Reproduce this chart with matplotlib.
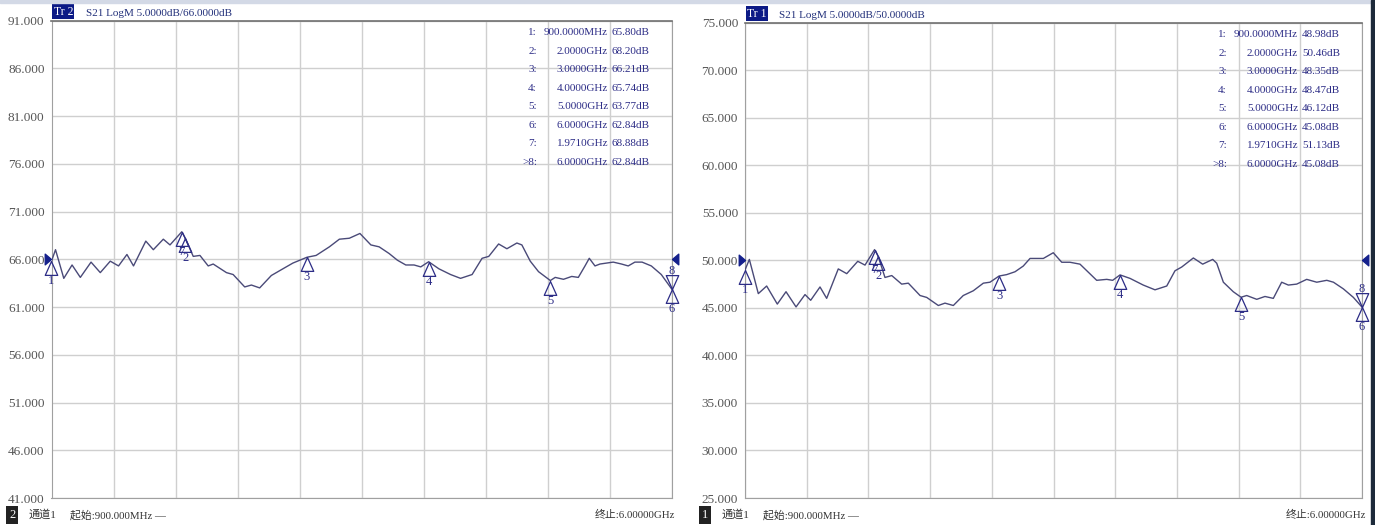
import numpy as np
import matplotlib.pyplot as plt
from matplotlib.patches import Rectangle

plt.rcParams['font.family'] = ['Liberation Serif', 'Noto Sans CJK SC']

# ---- data ----
# left screen: Tr 2, ref 66 dB, 5 dB/div
f_left = [0.9, 0.933, 1.001, 1.069, 1.137, 1.225, 1.301, 1.383, 1.451, 1.52,
          1.574, 1.675, 1.737, 1.819, 1.874, 1.971, 2.0, 2.065, 2.12, 2.188,
          2.229, 2.338, 2.393, 2.488, 2.543, 2.611, 2.707, 2.802, 2.884, 3.0,
          3.075, 3.184, 3.266, 3.348, 3.435, 3.525, 3.593, 3.675, 3.743, 3.812,
          3.88, 3.935, 4.0, 4.084, 4.18, 4.262, 4.357, 4.439, 4.494, 4.575,
          4.643, 4.725, 4.766, 4.835, 4.903, 5.0, 5.04, 5.108, 5.176, 5.23,
          5.285, 5.32, 5.367, 5.408, 5.517, 5.585, 5.64, 5.695, 5.754, 5.83,
          5.912, 6.0]
db_left = [65.80, 67.0, 64.0, 65.4, 64.1, 65.7, 64.6, 65.8, 65.3, 66.5,
           65.3, 67.9, 67.0, 68.1, 67.5, 68.88, 68.20, 66.3, 66.4, 65.3,
           65.5, 64.6, 64.4, 63.1, 63.3, 63.0, 64.3, 65.0, 65.6, 66.21,
           66.4, 67.3, 68.1, 68.2, 68.7, 67.5, 67.3, 66.6, 65.9, 65.4,
           65.4, 65.2, 65.74, 65.0, 64.4, 64.0, 64.4, 66.1, 66.3, 67.6,
           67.1, 67.7, 67.5, 65.8, 64.7, 63.77, 64.1, 63.9, 64.2, 64.1,
           65.3, 66.1, 65.3, 65.5, 65.7, 65.5, 65.3, 65.7, 65.7, 65.3,
           64.4, 62.84]

# right screen: Tr 1, ref 50 dB, 5 dB/div
f_right = [0.9, 0.936, 1.01, 1.079, 1.167, 1.239, 1.322, 1.396, 1.443, 1.52,
           1.575, 1.671, 1.741, 1.832, 1.892, 1.971, 2.0, 2.057, 2.113, 2.195,
           2.25, 2.347, 2.402, 2.498, 2.553, 2.622, 2.704, 2.787, 2.87, 2.925,
           3.0, 3.063, 3.132, 3.2, 3.256, 3.366, 3.448, 3.518, 3.586, 3.669,
           3.807, 3.89, 3.939, 4.0, 4.083, 4.192, 4.289, 4.386, 4.454, 4.51,
           4.606, 4.683, 4.766, 4.799, 4.854, 4.936, 5.0, 5.047, 5.13, 5.198,
           5.267, 5.336, 5.391, 5.46, 5.543, 5.626, 5.709, 5.764, 5.846, 5.929,
           6.0]
db_right = [48.98, 50.1, 46.5, 47.3, 45.4, 46.7, 45.1, 46.4, 45.8, 47.2,
            46.0, 49.1, 48.6, 49.9, 49.5, 51.13, 50.46, 48.2, 48.4, 47.5,
            47.6, 46.3, 46.1, 45.25, 45.5, 45.25, 46.3, 46.8, 47.6, 47.7,
            48.35, 48.5, 48.8, 49.4, 50.2, 50.2, 50.8, 49.8, 49.8, 49.6,
            47.9, 48.0, 47.9, 48.47, 48.1, 47.4, 46.9, 47.3, 48.9, 49.3,
            50.25, 49.6, 50.1, 49.7, 47.7, 46.7, 46.12, 46.3, 45.9, 46.2,
            46.0, 47.7, 47.4, 47.5, 48.0, 47.7, 47.9, 47.7, 47.0, 46.1,
            45.08]

# marker table
mk_names = ['1:', '2:', '3:', '4:', '5:', '6:', '7:', '>8:']
mk_freq = [0.9, 2.0, 3.0, 4.0, 5.0, 6.0, 1.971, 6.0]
mk_freq_txt = ['900.0000MHz', '2.0000GHz', '3.0000GHz', '4.0000GHz',
               '5.0000GHz', '6.0000GHz', '1.9710GHz', '6.0000GHz']
mk_left = [65.80, 68.20, 66.21, 65.74, 63.77, 62.84, 68.88, 62.84]
mk_right = [48.98, 50.46, 48.35, 48.47, 46.12, 45.08, 51.13, 45.08]

f_start, f_stop = 0.9, 6.0

TRACE = '#4a4a78'
NAVY = '#2c2c86'
W, H = 1375, 525


def fx(px):
    return px / W


def fy(py):
    return 1 - py / H


fig = plt.figure(figsize=(13.75, 5.25), dpi=100)
fig.patch.set_facecolor('white')

# screen decorations
fig.patches.append(Rectangle((0, fy(3)), 1, 3 / H, transform=fig.transFigure,
                             color='#d3d9e6', zorder=0))
fig.patches.append(Rectangle((fx(1371), 0), 4 / W, 1, transform=fig.transFigure,
                             color='#1d2a3a', zorder=0))

up_tri = [(0, 0), (-0.45, -1), (0.45, -1), (0, 0)]
down_tri = [(0, 0), (-0.45, 1), (0.45, 1), (0, 0)]
ref_right = [(0, 0), (-1, 0.85), (-1, -0.85), (0, 0)]
ref_left = [(0, 0), (1, 0.85), (1, -0.85), (0, 0)]


def draw_screen(ax, tr, ylo, yhi, ref, f, db, mk_db):
    ax.set_xlim(f_start, f_stop)
    ax.set_ylim(ylo, yhi)
    ax.set_xticks(np.linspace(f_start, f_stop, 11))
    ax.set_yticks(np.arange(ylo, yhi + 0.1, 5))
    ax.set_yticklabels([f'{v:.3f}' for v in np.arange(ylo, yhi + 0.1, 5)])
    ax.tick_params(axis='x', length=0, labelbottom=False)
    ax.tick_params(axis='y', length=0, pad=5, labelsize=9.5, labelcolor='#555555')
    ax.grid(True, color='#cfcfcf', lw=1)
    for s in ['left', 'right', 'bottom']:
        ax.spines[s].set_color('#a0a0a0')
    ax.spines['top'].set_color('#707070')
    ax.spines['top'].set_linewidth(1.2)

    ax.plot(f, db, color=TRACE, lw=1, zorder=3)

    # reference level arrows
    ax.plot([f_start], [ref], marker=ref_right, ms=9, color='#14208c',
            clip_on=False, zorder=5)
    ax.plot([f_stop], [ref], marker=ref_left, ms=9, color='#14208c',
            clip_on=False, zorder=5)

    # markers
    for i, (mf, mv) in enumerate(zip(mk_freq, mk_db)):
        num = str(i + 1)
        if i == 7:
            ax.plot([mf], [mv], marker=down_tri, ms=20, mfc='none', mec=NAVY,
                    mew=0.9, clip_on=False, zorder=4)
            ax.annotate(num, (mf, mv), xytext=(0, 18), textcoords='offset pixels',
                        ha='center', va='center', fontsize=9, color=NAVY,
                        annotation_clip=False)
        else:
            ax.plot([mf], [mv], marker=up_tri, ms=20, mfc='none', mec=NAVY,
                    mew=0.9, clip_on=False, zorder=4)
            ax.annotate(num, (mf, mv), xytext=(0, -20),
                        textcoords='offset pixels',
                        ha='center', va='center', fontsize=9, color=NAVY,
                        annotation_clip=False)

    # marker table (top right)
    for i in range(len(mk_names)):
        dy = -12 - 18.5 * i
        ax.annotate(mk_names[i], (1, 1), xycoords='axes fraction',
                    xytext=(-135, dy), textcoords='offset pixels',
                    ha='right', va='center', fontsize=8, color=NAVY)
        ax.annotate(mk_freq_txt[i], (1, 1), xycoords='axes fraction',
                    xytext=(-64, dy), textcoords='offset pixels',
                    ha='right', va='center', fontsize=8, color=NAVY)
        ax.annotate(f'{mk_db[i]:.2f}dB', (1, 1), xycoords='axes fraction',
                    xytext=(-60, dy), textcoords='offset pixels',
                    ha='left', va='center', fontsize=8, color=NAVY)

    # trace title
    ax.annotate(f'Tr {tr}', (0, 1), xycoords='axes fraction', xytext=(2, 3),
                textcoords='offset pixels', ha='left', va='bottom', fontsize=8.5,
                color='white',
                bbox=dict(boxstyle='square,pad=0.12', fc='#0c1a86', ec='none'))
    ax.annotate(f'S21 LogM 5.0000dB/{ref:.4f}dB', (0, 1), xycoords='axes fraction',
                xytext=(34, 3), textcoords='offset pixels', ha='left',
                va='bottom', fontsize=8, color='#22307a')


axL = fig.add_axes([fx(51.5), fy(498), fx(672 - 51.5), (498 - 20.5) / H])
axR = fig.add_axes([fx(745), fy(498), fx(1362 - 745), (498 - 22.7) / H])

draw_screen(axL, 2, 41, 91, 66, f_left, db_left, mk_left)
draw_screen(axR, 1, 25, 75, 50, f_right, db_right, mk_right)

# status bars
for ch, x0, x_stop in [('2', 9, 675), ('1', 702, 1366)]:
    fig.text(fx(x0), fy(515), ch, fontsize=9, color='white', va='center',
             bbox=dict(boxstyle='square,pad=0.25', fc='#222222', ec='none'))
    fig.text(fx(x0 + 20), fy(515), '通道1', fontsize=8, color='#333333',
             va='center')
    fig.text(fx(x0 + 61), fy(515), '起始:900.000MHz —', fontsize=7.8,
             color='#333333', va='center')
    fig.text(fx(x_stop), fy(515), '终止:6.00000GHz', fontsize=7.8,
             color='#333333', va='center', ha='right')

fig.savefig('out.png', dpi=100)
